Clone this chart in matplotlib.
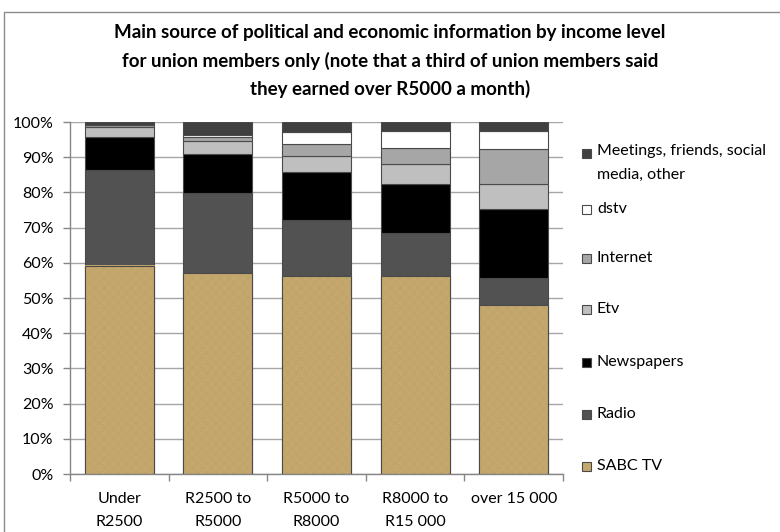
import numpy as np
import matplotlib
matplotlib.use("Agg")
import matplotlib.pyplot as plt
from matplotlib.lines import Line2D
from matplotlib.patches import Rectangle

categories = ["Under\nR2500", "R2500 to\nR5000", "R5000 to\nR8000", "R8000 to\nR15 000", "over 15 000"]

# Share of respondents (%) per income band, bottom to top of each stack
sabc_tv    = [59.2, 57.1, 56.2, 56.2, 47.9]
radio      = [27.2, 22.6, 15.9, 12.3,  7.9]
newspapers = [ 9.3, 11.3, 13.8, 13.9, 19.5]
etv        = [ 2.9,  3.5,  4.4,  5.6,  7.0]
internet   = [ 0.5,  1.3,  3.5,  4.7,  9.9]
dstv       = [ 0.0,  0.5,  3.3,  4.8,  5.2]
meetings   = [ 0.9,  3.7,  2.9,  2.5,  2.6]

series_names = ["SABC TV", "Radio", "Newspapers", "Etv", "Internet", "dstv",
                "Meetings, friends, social\nmedia, other"]
series_values = [sabc_tv, radio, newspapers, etv, internet, dstv, meetings]
series_colors = ["#C4A86C", "#525252", "#000000", "#BFBFBF", "#A6A6A6", "#FFFFFF", "#404040"]

y_ticks = [0, 10, 20, 30, 40, 50, 60, 70, 80, 90, 100]

BODY = ["Lato", "DejaVu Sans"]
TITLE = ["Lato", "DejaVu Sans"]

W, H = 780, 532
fig = plt.figure(figsize=(W / 100, H / 100), dpi=100)
ax = fig.add_axes([70 / W, 1 - 474 / H, (563 - 70) / W, (474 - 122) / H])

x = np.arange(len(categories))
bottom = np.zeros(len(categories))
bar_width = 0.70
containers = []
for name, vals, col in zip(series_names, series_values, series_colors):
    bc = ax.bar(x, vals, bar_width, bottom=bottom, color=col, edgecolor="#4a4a4a",
                linewidth=0.8, zorder=2, label=name)
    containers.append(bc)
    bottom += np.array(vals)

# canvas-like grain on the SABC TV segments
c_light = np.array([0xCB, 0xB0, 0x76]) / 255
c_dark = np.array([0xB8, 0x9B, 0x60]) / 255
for rect in containers[0]:
    x0, w, h = rect.get_x(), rect.get_width(), rect.get_height()
    nh, nw = int(h * 3.52), int(w * 98.5)
    yy, xx = np.mgrid[0:nh, 0:nw]
    p = 0.55 + 0.2 * np.sin(xx * 2.3) * np.sin(yy * 1.9) \
        + 0.12 * np.sin(xx * 0.71 + 1.3) * np.cos(yy * 0.63) \
        + 0.1 * np.cos(xx * 3.1 - yy * 2.7)
    p = np.clip(p, 0, 1)
    img = c_dark + p[..., None] * (c_light - c_dark)
    ax.imshow(img, extent=(x0, x0 + w, 0, h), origin="lower", aspect="auto",
              interpolation="nearest", zorder=2.5)
    ax.add_patch(Rectangle((x0, 0), w, h, facecolor="none", edgecolor="#4a4a4a",
                           linewidth=0.8, zorder=3))

ax.set_xlim(-0.5, len(categories) - 0.5)
ax.set_ylim(0, 100)
ax.set_yticks(y_ticks)
ax.set_yticklabels([f"{v}%" for v in y_ticks], fontfamily=BODY, fontsize=11.5)
ax.yaxis.grid(True, color="#A6A6A6", linewidth=1.0, zorder=0)
ax.set_axisbelow(True)

ax.set_xticks(x)
ax.set_xticklabels(categories, fontfamily=BODY, fontsize=11.5, linespacing=1.8)
ax.set_xticks(np.arange(-0.5, len(categories), 1.0), minor=True)
ax.tick_params(axis="x", which="major", length=0, pad=13)
ax.tick_params(axis="x", which="minor", length=5, color="#868686", width=1)
ax.tick_params(axis="y", length=5, color="#868686", width=1, pad=7)

for s in ["top", "right"]:
    ax.spines[s].set_visible(False)
for s in ["left", "bottom"]:
    ax.spines[s].set_color("#868686")
    ax.spines[s].set_linewidth(1)

fig.text(390 / W, 1 - 61 / H,
         "Main source of political and economic information by income level\n"
         "for union members only (note that a third of union members said\n"
         "they earned over R5000 a month)",
         ha="center", va="center", fontfamily=TITLE, fontweight="bold",
         fontsize=13.5, linespacing=1.66)

# legend, top entry first
legend_y = [153, 209, 258, 309, 362, 414, 466]
for name, col, yp in zip(series_names[::-1], series_colors[::-1], legend_y):
    fig.add_artist(Rectangle((582 / W, 1 - (yp + 4.5) / H), 9 / W, 9 / H,
                             transform=fig.transFigure, facecolor=col,
                             edgecolor="#4a4a4a", linewidth=0.8))
    if "\n" in name:
        fig.text(597 / W, 1 - (yp - 9.5) / H, name, ha="left", va="top",
                 fontfamily=BODY, fontsize=11.5, linespacing=1.95)
    else:
        fig.text(597 / W, 1 - yp / H, name, ha="left", va="center",
                 fontfamily=BODY, fontsize=11.5)

# outer chart frame
fig.add_artist(Line2D([4 / W, 4 / W, 1], [0, 1 - 12 / H, 1 - 12 / H],
                      transform=fig.transFigure, color="#8C8C8C", linewidth=1))

fig.savefig("out.png", dpi=100)
